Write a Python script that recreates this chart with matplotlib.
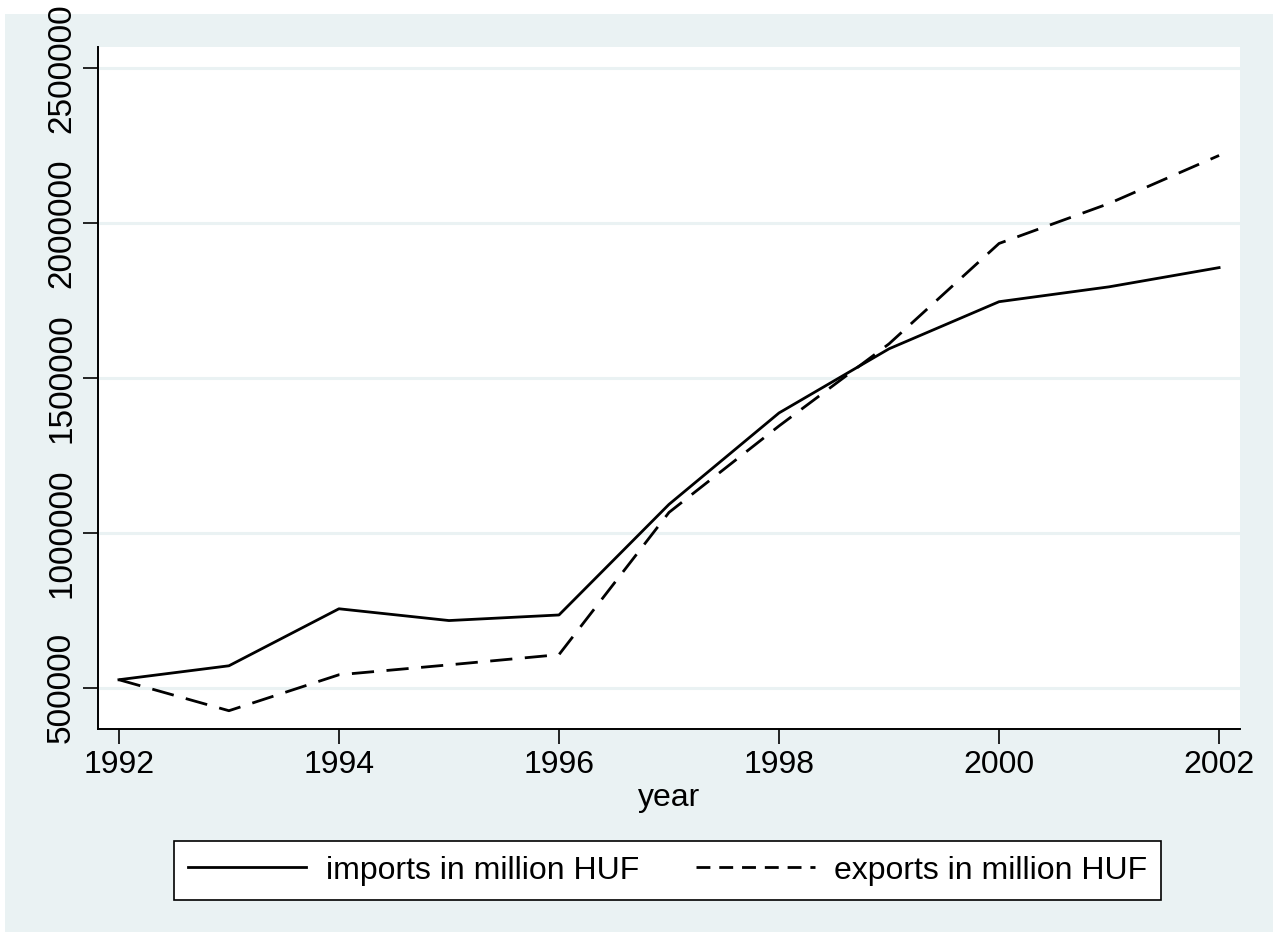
import matplotlib.pyplot as plt
from matplotlib.patches import Rectangle

# data
years = [1992, 1993, 1994, 1995, 1996, 1997, 1998, 1999, 2000, 2001, 2002]
imports = [526000, 571000, 755000, 717000, 735000, 1092000, 1387000, 1594000, 1746000, 1794000, 1856000]
exports = [526000, 426000, 542000, 574000, 607000, 1066000, 1345000, 1610000, 1934000, 2063000, 2218000]
x_ticks = [1992, 1994, 1996, 1998, 2000, 2002]
y_ticks = [500000, 1000000, 1500000, 2000000, 2500000]

BG = '#EAF2F3'  # stata ltbluishgray
plt.rcParams['font.family'] = ['Liberation Sans', 'DejaVu Sans']

W, H = 1282, 932
fig = plt.figure(figsize=(W / 100, H / 100), dpi=100)
fig.patch.set_facecolor('white')

# graph region background (white margin round it, like the export)
fig.add_artist(Rectangle((5 / W, 0), (1273 - 5) / W, (H - 14) / H,
                         transform=fig.transFigure, facecolor=BG,
                         edgecolor='none', zorder=-10))

left, right, top, bottom = 98, 1240, 47, 729
ax = fig.add_axes([left / W, 1 - bottom / H, (right - left) / W, (bottom - top) / H])
ax.set_facecolor('white')

ax.plot(years, imports, color='black', lw=2.0, label='imports in million HUF')
ax.plot(years, exports, color='black', lw=2.0, dashes=(8, 4.5),
        label='exports in million HUF')

ax.set_xlim(1991.81, 2002.19)
ax.set_ylim(367000, 2568000)
ax.set_xticks(x_ticks)
ax.set_yticks(y_ticks)
ax.set_yticklabels([str(v) for v in y_ticks], rotation=90, va='center', fontsize=24)
ax.grid(axis='y', color=BG, lw=2.2)
ax.set_axisbelow(True)

for s in ['top', 'right']:
    ax.spines[s].set_visible(False)
for s in ['left', 'bottom']:
    ax.spines[s].set_linewidth(1.4)
ax.tick_params(axis='both', length=11, width=1.2, labelsize=23, pad=4)
ax.tick_params(axis='y', labelsize=24)

ax.set_xlabel('year', fontsize=23, labelpad=2)

leg = fig.legend(loc='center', bbox_to_anchor=(667.5 / W, 1 - 870.5 / H), ncol=2,
                 fontsize=23, frameon=True, fancybox=False, handlelength=3.7,
                 columnspacing=1.8, handletextpad=0.6, borderpad=0.45,
                 borderaxespad=0)
leg.get_frame().set_edgecolor('black')
leg.get_frame().set_linewidth(1.2)
leg.get_frame().set_facecolor('white')
leg.get_frame().set_alpha(1)
leg.get_lines()[1].set_dashes((5, 3.2))

fig.savefig('out.png', dpi=100, facecolor=fig.get_facecolor())
